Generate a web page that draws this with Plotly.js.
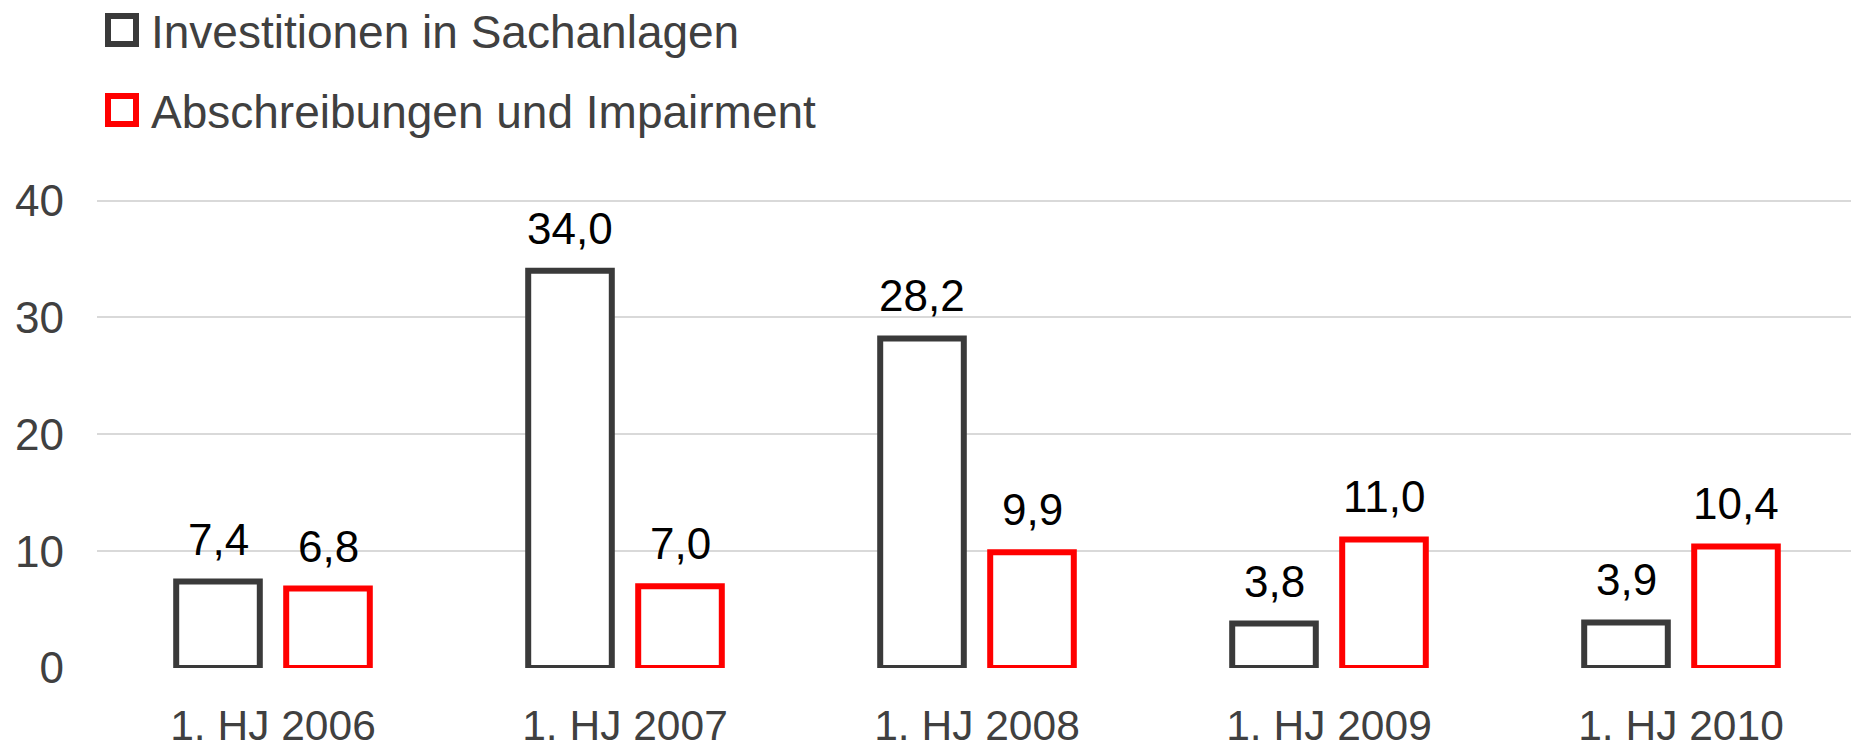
<!DOCTYPE html>
<html>
<head>
<meta charset="utf-8">
<script src="https://cdn.plot.ly/plotly-3.0.1.min.js"></script>
<style>
  html, body { margin: 0; padding: 0; background: #ffffff; }
  #chart { width: 1851px; height: 749px; }
</style>
</head>
<body>
<div id="chart"></div>
<script>
// ---- Data ----
const categories = ["1. HJ 2006", "1. HJ 2007", "1. HJ 2008", "1. HJ 2009", "1. HJ 2010"];
const investitionen = [7.4, 34.0, 28.2, 3.8, 3.9];
const abschreibungen = [6.8, 7.0, 9.9, 11.0, 10.4];
const seriesNames = ["Investitionen in Sachanlagen", "Abschreibungen und Impairment"];
const yTicks = [0, 10, 20, 30, 40];

// ---- Layout constants (pixels) ----
const W = 1851, H = 749;
const Y_MAX = 40.3;
const pxPerUnit = 11.68;
const zeroPx = 668;
const M = { l: 97, r: 0, t: Math.round(zeroPx - Y_MAX * pxPerUnit), b: H - zeroPx };
const plotW = W - M.l - M.r, plotH = H - M.t - M.b;
const catSpacing = 352;
const BARGAP = 0.375, BARGROUPGAP = 0.24;
const slotPx = (1 - BARGAP) / 2 * catSpacing;
const FONT = '"Liberation Sans", Arial, Helvetica, sans-serif';
const DARK = '#3a3a3a';
const RED = '#ff0000';
const fmt = v => v.toFixed(1).replace('.', ',');

// pixel -> paper helpers
const px2x = px => (px - M.l) / plotW;
const py2y = py => (M.t + plotH - py) / plotH;

const colors = [DARK, RED];
const seriesData = [investitionen, abschreibungen];

const traces = seriesData.map((vals, i) => ({
  type: 'bar',
  name: seriesNames[i],
  x: categories,
  y: vals,
  marker: { color: '#ffffff', line: { color: colors[i], width: 6 } },
  hoverinfo: 'x+y+name'
}));

const shapes = [];
const annotations = [];

// Value labels above bars
seriesData.forEach((vals, i) => {
  const shift = (i === 0 ? -1 : 1) * slotPx / 2;
  vals.forEach((v, j) => {
    annotations.push({
      xref: 'x', yref: 'y',
      x: categories[j], y: v,
      xshift: shift, yshift: 16,
      xanchor: 'center', yanchor: 'bottom',
      text: fmt(v), showarrow: false,
      font: { family: FONT, size: 44, color: '#000000' }
    });
  });
});

// Legend drawn as shapes + annotations
const legendCenters = [30, 110];
seriesNames.forEach((name, i) => {
  const cy = legendCenters[i];
  shapes.push({
    type: 'rect', xref: 'paper', yref: 'paper',
    x0: px2x(108), x1: px2x(136),
    y0: py2y(cy + 14), y1: py2y(cy - 14),
    line: { color: colors[i], width: 6 },
    fillcolor: '#ffffff'
  });
  annotations.push({
    xref: 'paper', yref: 'paper',
    x: px2x(149), y: py2y(cy + 2),
    xanchor: 'left', yanchor: 'middle',
    text: name, showarrow: false,
    font: { family: FONT, size: 46, color: '#404040' }
  });
});

const layout = {
  width: W, height: H,
  margin: M,
  paper_bgcolor: '#ffffff',
  plot_bgcolor: '#ffffff',
  showlegend: false,
  barmode: 'group',
  bargap: BARGAP,
  bargroupgap: BARGROUPGAP,
  font: { family: FONT, color: '#404040' },
  xaxis: {
    type: 'category',
    range: [-0.5, -0.5 + plotW / catSpacing],
    showgrid: false, zeroline: false, showline: false,
    ticks: '', ticklabelstandoff: 28,
    tickfont: { family: FONT, size: 42.5, color: '#404040' }
  },
  yaxis: {
    range: [0, Y_MAX],
    tickvals: yTicks,
    ticktext: yTicks.map(String),
    showgrid: true, gridcolor: '#d9d9d9', gridwidth: 2,
    zeroline: false, showline: false,
    ticks: '', ticklabelstandoff: 32,
    tickfont: { family: FONT, size: 44, color: '#404040' }
  },
  shapes: shapes,
  annotations: annotations
};

Plotly.newPlot('chart', traces, layout, { displayModeBar: false, staticPlot: true });
</script>
</body>
</html>
